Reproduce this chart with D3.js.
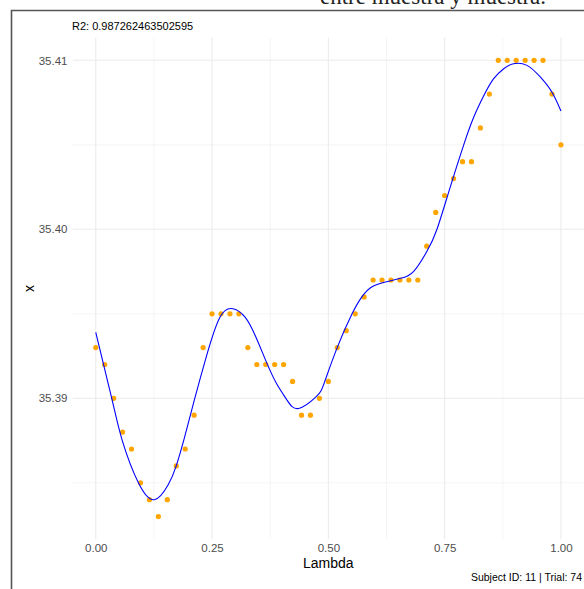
<!DOCTYPE html>
<html>
<head>
<meta charset="utf-8">
<script src="https://cdn.jsdelivr.net/npm/d3@7"></script>
<style>
  html, body { margin: 0; padding: 0; background: #fff; }
  svg { display: block; }
</style>
</head>
<body>
<div id="chart"></div>
<script>
// Observed samples: lambda positions and recorded x values
const lambdaValues = [
  0, 0.0192, 0.0385, 0.0577, 0.0769, 0.0962, 0.1154, 0.1346, 0.1538, 0.1731,
  0.1923, 0.2115, 0.2308, 0.25, 0.2692, 0.2885, 0.3077, 0.3269, 0.3462, 0.3654,
  0.3846, 0.4038, 0.4231, 0.4423, 0.4615, 0.4808, 0.5, 0.5192, 0.5385, 0.5577,
  0.5769, 0.5962, 0.6154, 0.6346, 0.6538, 0.6731, 0.6923, 0.7115, 0.7308, 0.75,
  0.7692, 0.7885, 0.8077, 0.8269, 0.8462, 0.8654, 0.8846, 0.9038, 0.9231, 0.9423,
  0.9615, 0.9808, 1
];
const xValues = [
  35.393, 35.392, 35.390, 35.388, 35.387, 35.385, 35.384, 35.383, 35.384, 35.386,
  35.387, 35.389, 35.393, 35.395, 35.395, 35.395, 35.395, 35.393, 35.392, 35.392,
  35.392, 35.392, 35.391, 35.389, 35.389, 35.390, 35.391, 35.393, 35.394, 35.395,
  35.396, 35.397, 35.397, 35.397, 35.397, 35.397, 35.397, 35.399, 35.401, 35.402,
  35.403, 35.404, 35.404, 35.406, 35.408, 35.410, 35.410, 35.410, 35.410, 35.410,
  35.410, 35.408, 35.405
];

// Smooth fitted curve, sampled along lambda
const fitLambda = [
  0.000, 0.0344, 0.057, 0.0917, 0.126, 0.156, 0.173, 0.191, 0.212, 0.238,
  0.267, 0.295, 0.321, 0.343, 0.366, 0.388, 0.411, 0.436, 0.474, 0.491,
  0.519, 0.551, 0.572, 0.594, 0.626, 0.655, 0.683, 0.712, 0.7335, 0.762,
  0.791, 0.812, 0.834, 0.855, 0.877, 0.898, 0.927, 0.956, 0.981, 1.000
];
const fitValues = [
  35.3939, 35.3900, 35.3875, 35.3850, 35.3840, 35.3849, 35.3860, 35.3877, 35.3899, 35.3925,
  35.3948, 35.3953, 35.3948, 35.3937, 35.3922, 35.3909, 35.3899, 35.3894, 35.3901, 35.3909,
  35.3930, 35.3950, 35.3960, 35.3966, 35.3969, 35.3971, 35.3975, 35.3987, 35.4000, 35.4025,
  35.4050, 35.4066, 35.4079, 35.4089, 35.4095, 35.4098, 35.4097, 35.4090, 35.4081, 35.4070
];

const xTicks = [0, 0.25, 0.5, 0.75, 1];
const xMinor = [0.125, 0.375, 0.625, 0.875];
const yTicks = [35.39, 35.40, 35.41];
const yMinor = [35.385, 35.395, 35.405];

const r2Label = "R2: 0.987262463502595";
const captionLabel = "Subject ID: 11 | Trial: 74";
const pageText = "entre muestra y muestra.";

const W = 584, H = 589;
const panel = { left: 72.5, right: 584.2, top: 37.5, bottom: 539.4 };

const svg = d3.select("#chart").append("svg")
  .attr("width", W).attr("height", H)
  .style("font-family", "'Liberation Sans', Arial, sans-serif");

svg.append("rect").attr("width", W).attr("height", H).attr("fill", "#fff");

// Surrounding page: serif line of text and the figure frame
svg.append("text")
  .attr("x", 320).attr("y", 4)
  .attr("font-family", "'Liberation Serif', 'Times New Roman', serif")
  .attr("font-size", 23)
  .attr("fill", "#222")
  .text(pageText);

svg.append("path")
  .attr("d", `M11.5,${H} V10.5 H${W}`)
  .attr("fill", "none")
  .attr("stroke", "#555")
  .attr("stroke-width", 1.6);

const xDomain = d3.extent(lambdaValues);
const xPad = (xDomain[1] - xDomain[0]) * 0.05;
const x = d3.scaleLinear()
  .domain([xDomain[0] - xPad, xDomain[1] + xPad])
  .range([panel.left, panel.right]);

const yDomain = d3.extent(xValues);
const yPad = (yDomain[1] - yDomain[0]) * 0.05;
const y = d3.scaleLinear()
  .domain([yDomain[0] - yPad, yDomain[1] + yPad])
  .range([panel.bottom, panel.top]);

const plot = svg.append("g");
svg.append("clipPath").attr("id", "panel-clip")
  .append("rect")
  .attr("x", panel.left).attr("y", panel.top)
  .attr("width", panel.right - panel.left).attr("height", panel.bottom - panel.top);

// Grid: minor first, then major
const grid = plot.append("g").attr("clip-path", "url(#panel-clip)");
grid.selectAll(".vminor").data(xMinor).join("line")
  .attr("x1", d => x(d)).attr("x2", d => x(d))
  .attr("y1", panel.top).attr("y2", panel.bottom)
  .attr("stroke", "#f1f1f1").attr("stroke-width", 0.8);
grid.selectAll(".hminor").data(yMinor).join("line")
  .attr("y1", d => y(d)).attr("y2", d => y(d))
  .attr("x1", panel.left).attr("x2", panel.right)
  .attr("stroke", "#f1f1f1").attr("stroke-width", 0.8);
grid.selectAll(".vmajor").data(xTicks).join("line")
  .attr("x1", d => x(d)).attr("x2", d => x(d))
  .attr("y1", panel.top).attr("y2", panel.bottom)
  .attr("stroke", "#ebebeb").attr("stroke-width", 1.1);
grid.selectAll(".hmajor").data(yTicks).join("line")
  .attr("y1", d => y(d)).attr("y2", d => y(d))
  .attr("x1", panel.left).attr("x2", panel.right)
  .attr("stroke", "#ebebeb").attr("stroke-width", 1.1);

// Axes (labels only, no domain line or tick marks)
const xAxis = plot.append("g")
  .attr("transform", `translate(0,${panel.bottom})`)
  .call(d3.axisBottom(x).tickValues(xTicks).tickFormat(d3.format(".2f")).tickSize(0).tickPadding(4));
xAxis.select(".domain").remove();
xAxis.selectAll("text")
  .attr("fill", "#4d4d4d").attr("font-size", 11.5)
  .attr("font-family", "'Liberation Sans', Arial, sans-serif");

const yAxis = plot.append("g")
  .attr("transform", `translate(${panel.left},0)`)
  .call(d3.axisLeft(y).tickValues(yTicks).tickFormat(d3.format(".2f")).tickSize(0).tickPadding(5));
yAxis.select(".domain").remove();
yAxis.selectAll("text")
  .attr("fill", "#4d4d4d").attr("font-size", 11.5)
  .attr("font-family", "'Liberation Sans', Arial, sans-serif");

// Axis titles
svg.append("text")
  .attr("x", (x(0) + x(1)) / 2).attr("y", 568)
  .attr("text-anchor", "middle")
  .attr("font-size", 14).attr("fill", "#000")
  .text("Lambda");

svg.append("text")
  .attr("transform", `translate(34,${(panel.top + panel.bottom) / 2}) rotate(-90)`)
  .attr("text-anchor", "middle")
  .attr("font-size", 14).attr("fill", "#000")
  .text("x");

// Observed points
const pts = lambdaValues.map((l, i) => ({ l, v: xValues[i] }));
plot.append("g").selectAll("circle").data(pts).join("circle")
  .attr("cx", d => x(d.l)).attr("cy", d => y(d.v))
  .attr("r", 2.6)
  .attr("fill", "#FFA500");

// Fitted curve
const fit = fitLambda.map((l, i) => ({ l, v: fitValues[i] }));
plot.append("path")
  .datum(fit)
  .attr("fill", "none")
  .attr("stroke", "#0000FF")
  .attr("stroke-width", 1.1)
  .attr("d", d3.line().x(d => x(d.l)).y(d => y(d.v)).curve(d3.curveNatural));

// Annotations
svg.append("text")
  .attr("x", 72).attr("y", 30)
  .attr("font-size", 11).attr("fill", "#000")
  .text(r2Label);

svg.append("text")
  .attr("x", 582).attr("y", 581)
  .attr("text-anchor", "end")
  .attr("font-size", 10.5).attr("fill", "#000")
  .text(captionLabel);
</script>
</body>
</html>
